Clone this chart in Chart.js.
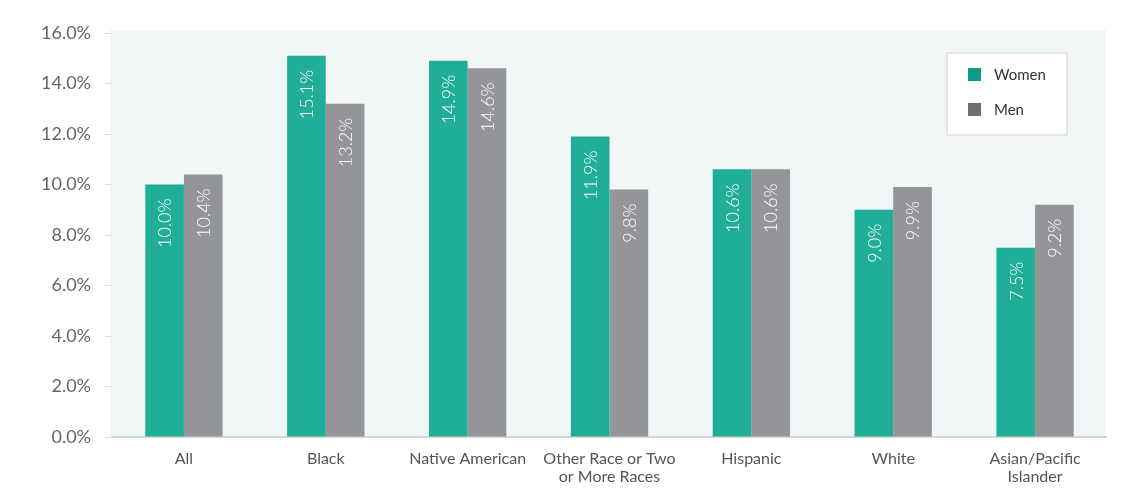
<!DOCTYPE html>
<html>
<head>
<meta charset="utf-8">
<script src="https://cdn.jsdelivr.net/npm/chart.js@4/dist/chart.umd.min.js"></script>
<style>
  html, body { margin: 0; padding: 0; background: #ffffff; }
  #wrap { width: 1125px; height: 489px; position: relative; }
</style>
</head>
<body>
<div id="wrap"><canvas id="chart" width="1125" height="489"></canvas></div>
<script>
// Share of students by race/ethnicity, women vs. men (percent)
const categories = [
  'All',
  'Black',
  'Native American',
  ['Other Race or Two', 'or More Races'],
  'Hispanic',
  'White',
  ['Asian/Pacific', 'Islander']
];
const women = [10.0, 15.1, 14.9, 11.9, 10.6, 9.0, 7.5];
const men   = [10.4, 13.2, 14.6, 9.8, 10.6, 9.9, 9.2];
const seriesNames = ['Women', 'Men'];
const yTicks = [0, 2, 4, 6, 8, 10, 12, 14, 16];

const WOMEN_BAR = '#21ae98';
const MEN_BAR = '#949599';
const WOMEN_KEY = '#12998a';
const MEN_KEY = '#6c6f76';

// Pale panel behind the plot area
const panelBackground = {
  id: 'panelBackground',
  beforeDraw(chart) {
    const { ctx, chartArea: a } = chart;
    ctx.save();
    ctx.fillStyle = '#f1f7f7';
    ctx.fillRect(a.left - 3, a.top - 3, a.right - a.left + 3, a.bottom - a.top + 3);
    ctx.restore();
  }
};

// Rotated value labels placed just under the top of each bar
const barValues = {
  id: 'barValues',
  afterDatasetsDraw(chart) {
    const { ctx } = chart;
    ctx.save();
    ctx.fillStyle = '#ffffff';
    ctx.font = '300 18px Lato, "Open Sans", sans-serif';
    ctx.textAlign = 'right';
    ctx.textBaseline = 'middle';
    chart.data.datasets.forEach((ds, i) => {
      chart.getDatasetMeta(i).data.forEach((bar, j) => {
        ctx.save();
        ctx.translate(bar.x, bar.y + 14);
        ctx.rotate(-Math.PI / 2);
        ctx.fillText(ds.data[j].toFixed(1) + '%', 0, 1);
        ctx.restore();
      });
    });
    ctx.restore();
  }
};

// Boxed legend in the upper right of the plot
const boxedLegend = {
  id: 'boxedLegend',
  afterDraw(chart) {
    const { ctx } = chart;
    const x = 947, y = 53, w = 120, h = 82;
    ctx.save();
    ctx.fillStyle = '#ffffff';
    ctx.fillRect(x, y, w, h);
    ctx.strokeStyle = '#dcdede';
    ctx.lineWidth = 1.5;
    ctx.strokeRect(x, y, w, h);
    const keys = [WOMEN_KEY, MEN_KEY];
    ctx.font = '15px Lato, "Open Sans", sans-serif';
    ctx.textBaseline = 'middle';
    ctx.textAlign = 'left';
    chart.data.datasets.forEach((ds, i) => {
      const cy = y + 22 + i * 35;
      ctx.fillStyle = keys[i];
      ctx.fillRect(x + 21, cy - 7, 13, 13);
      ctx.fillStyle = '#333333';
      ctx.fillText(ds.label, x + 47, cy);
    });
    ctx.restore();
  }
};

new Chart(document.getElementById('chart'), {
  type: 'bar',
  data: {
    labels: categories,
    datasets: [
      { label: seriesNames[0], data: women, backgroundColor: WOMEN_BAR },
      { label: seriesNames[1], data: men, backgroundColor: MEN_BAR }
    ]
  },
  options: {
    responsive: false,
    animation: false,
    devicePixelRatio: 1,
    layout: { padding: { top: 33, right: 19, bottom: 0, left: 0 } },
    datasets: { bar: { categoryPercentage: 0.545, barPercentage: 1.0 } },
    plugins: {
      legend: { display: false },
      tooltip: { enabled: false },
      title: { display: false }
    },
    scales: {
      x: {
        grid: { display: false, drawTicks: false },
        border: { display: true, color: '#d4d6d6', width: 2 },
        ticks: {
          color: '#555555',
          padding: 13,
          maxRotation: 0,
          autoSkip: false,
          font: { family: 'Lato, "Open Sans", sans-serif', size: 16, lineHeight: 1.1 }
        },
        afterFit(scale) { scale.height = 52; }
      },
      y: {
        min: 0,
        max: 16,
        afterBuildTicks(scale) { scale.ticks = yTicks.map(v => ({ value: v })); },
        grid: { drawOnChartArea: false, drawTicks: true, tickLength: 8, color: '#dcdede' },
        border: { display: false },
        ticks: {
          color: '#666666',
          padding: 14,
          font: { family: 'Lato, "Open Sans", sans-serif', size: 18 },
          callback: v => Number(v).toFixed(1) + '%'
        },
        afterFit(scale) { scale.width = 113; }
      }
    }
  },
  plugins: [panelBackground, barValues, boxedLegend]
});
</script>
</body>
</html>
